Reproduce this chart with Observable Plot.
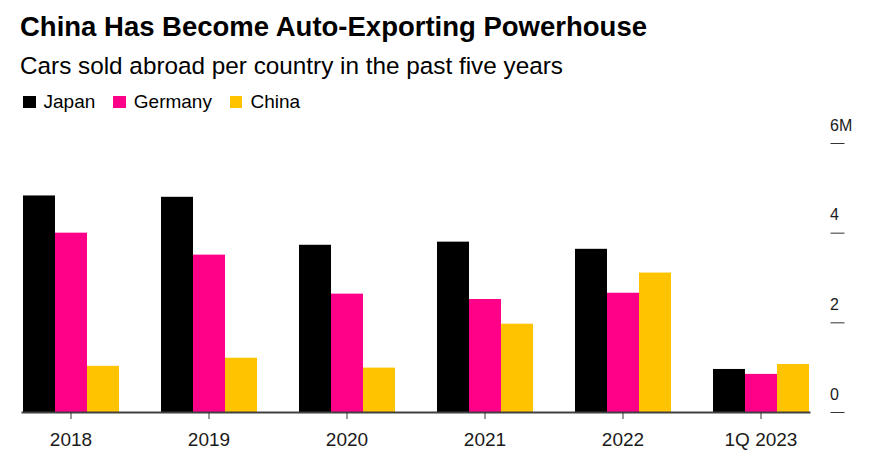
<!DOCTYPE html>
<html>
<head>
<meta charset="utf-8">
<script src="https://cdn.jsdelivr.net/npm/d3@7"></script>
<script src="https://cdn.jsdelivr.net/npm/@observablehq/plot@0.6"></script>
<style>
  html, body { margin: 0; padding: 0; background: #fff; }
  body { width: 873px; height: 458px; position: relative; overflow: hidden; font-family: "Liberation Sans", Arial, sans-serif; color: #000; }
  .title { position: absolute; left: 20px; top: 12.8px; font-size: 27.5px; line-height: 27.5px; font-weight: bold; white-space: nowrap; }
  .subtitle { position: absolute; left: 20px; top: 54.4px; font-size: 24.3px; line-height: 24.3px; white-space: nowrap; }
  .legend { position: absolute; left: 23px; top: 92px; font-size: 19px; line-height: 19px; display: flex; white-space: nowrap; }
  .legend .item { display: flex; align-items: center; margin-right: 18px; }
  .legend .sw { width: 12.5px; height: 12.5px; margin-right: 8px; margin-top: 1px; }
  #chart { position: absolute; left: 0; top: 112px; }
</style>
</head>
<body>
<div class="title">China Has Become Auto-Exporting Powerhouse</div>
<div class="subtitle">Cars sold abroad per country in the past five years</div>
<div class="legend" id="legend"></div>
<div id="chart"></div>
<script>
const years = ["2018", "2019", "2020", "2021", "2022", "1Q 2023"];
const countries = ["Japan", "Germany", "China"];
const japan = [4.83, 4.80, 3.73, 3.80, 3.64, 0.96];
const germany = [4.00, 3.51, 2.64, 2.52, 2.66, 0.85];
const china = [1.03, 1.21, 0.99, 1.97, 3.11, 1.07];
const colors = ["#000000", "#FF0088", "#FFC300"];
const yTicks = [0, 2, 4, 6];

const series = [japan, germany, china];
const data = [];
years.forEach((year, i) => {
  countries.forEach((country, j) => {
    data.push({year, country, value: series[j][i]});
  });
});

const legend = document.getElementById("legend");
countries.forEach((c, i) => {
  const item = document.createElement("div");
  item.className = "item";
  const sw = document.createElement("div");
  sw.className = "sw";
  sw.style.background = colors[i];
  const label = document.createElement("span");
  label.textContent = c;
  item.appendChild(sw);
  item.appendChild(label);
  legend.appendChild(item);
});

const chart = Plot.plot({
  width: 873,
  height: 346,
  marginLeft: 20,
  marginRight: 28,
  marginTop: 31,
  marginBottom: 46,
  style: {fontFamily: '"Liberation Sans", Arial, sans-serif', color: "#1a1a1a", background: "transparent"},
  fx: {domain: years, range: [20, 811.5], paddingInner: 0.3, paddingOuter: 0, label: null},
  x: {domain: countries, padding: 0, axis: null},
  y: {domain: [0, 6], axis: null},
  color: {domain: countries, range: colors},
  marks: [
    Plot.barY(data, {fx: "year", x: "country", y: "value", fill: "country"}),
    Plot.frame({facet: "super", anchor: "bottom", stroke: "#404040", strokeWidth: 2}),
    Plot.axisFx({anchor: "bottom", tickSize: 7, tickPadding: 12.5, fontSize: 19, label: null, stroke: "#333"}),
    Plot.axisY({
      anchor: "right",
      ticks: yTicks,
      tickSize: 14,
      dx: 20.5,
      label: null,
      stroke: "#333",
      tickFormat: () => ""
    }),
    Plot.axisY({
      anchor: "right",
      ticks: yTicks,
      tickSize: 0,
      tickPadding: 0,
      textAnchor: "start",
      dx: 20.5,
      dy: -18,
      fontSize: 16,
      label: null,
      tickFormat: d => d === 6 ? "6M" : String(d)
    })
  ]
});
document.getElementById("chart").appendChild(chart);
</script>
</body>
</html>
